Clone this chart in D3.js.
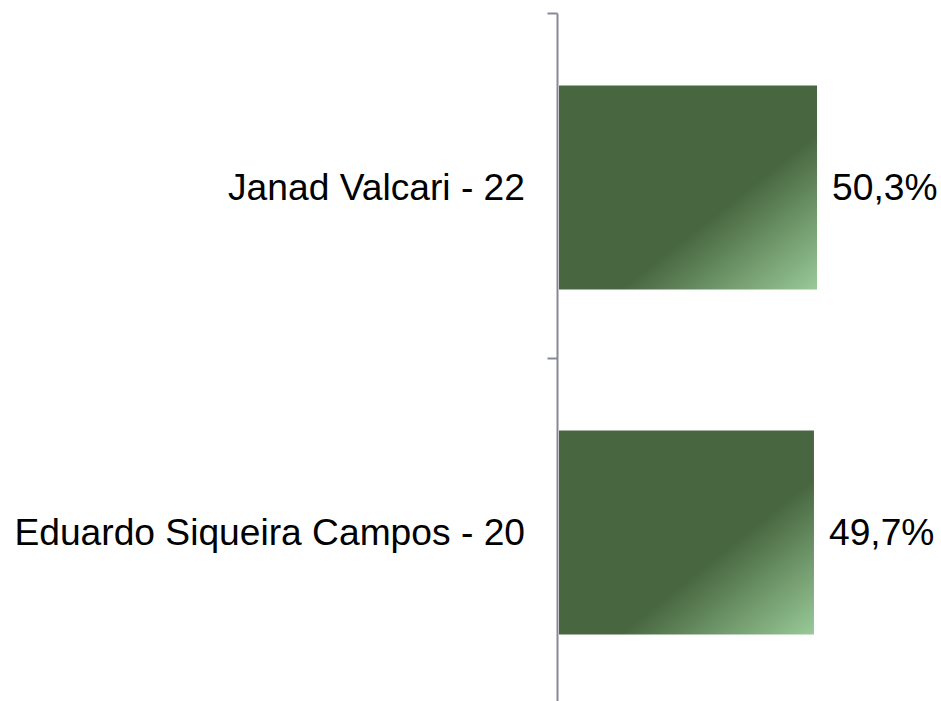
<!DOCTYPE html>
<html>
<head>
<meta charset="utf-8">
<script src="https://cdn.jsdelivr.net/npm/d3@7"></script>
<style>
  html, body { margin: 0; padding: 0; background: #ffffff; }
  svg { display: block; }
</style>
</head>
<body>
<svg id="chart" width="941" height="701"></svg>
<script>
const categories = ["Janad Valcari - 22", "Eduardo Siqueira Campos - 20"];
const values = [50.3, 49.7];
const valueLabels = ["50,3%", "49,7%"];

const svg = d3.select("#chart");
const axisX = 557.5;
const barStart = 559;

const x = d3.scaleLinear().domain([0, 100]).range([barStart, barStart + 513]);
const y = d3.scaleBand()
  .domain(categories)
  .range([13.5, 706.5])
  .paddingInner(0.4087)
  .paddingOuter(0.2087);

const defs = svg.append("defs");
const grad = defs.append("linearGradient")
  .attr("id", "barGrad")
  .attr("x1", 0).attr("y1", 0).attr("x2", 1).attr("y2", 1);
grad.append("stop").attr("offset", 0).attr("stop-color", "#486740");
grad.append("stop").attr("offset", 0.62).attr("stop-color", "#486740");
grad.append("stop").attr("offset", 1).attr("stop-color", "#99ca98");

// bars
svg.selectAll("rect.bar")
  .data(categories)
  .enter().append("rect")
  .attr("class", "bar")
  .attr("x", x(0))
  .attr("y", d => y(d))
  .attr("width", (d, i) => x(values[i]) - x(0))
  .attr("height", y.bandwidth())
  .attr("fill", "url(#barGrad)");

// axis line
const [r0, r1] = y.range();
svg.append("line")
  .attr("x1", axisX).attr("x2", axisX)
  .attr("y1", r0).attr("y2", r1)
  .attr("stroke", "#868a96").attr("stroke-width", 2);

// ticks at category boundaries
const step = y.step();
const boundaries = [r0, r0 + step, r0 + 2 * step];
svg.selectAll("line.tick")
  .data(boundaries)
  .enter().append("line")
  .attr("class", "tick")
  .attr("x1", axisX - 10).attr("x2", axisX)
  .attr("y1", d => d).attr("y2", d => d)
  .attr("stroke", "#868a96").attr("stroke-width", 2);

// category labels
svg.selectAll("text.cat")
  .data(categories)
  .enter().append("text")
  .attr("class", "cat")
  .attr("x", 525)
  .attr("y", d => y(d) + y.bandwidth() / 2)
  .attr("dy", "0.33em")
  .attr("text-anchor", "end")
  .attr("font-family", "Liberation Sans, Arial, sans-serif")
  .attr("font-size", 37.2)
  .attr("fill", "#000")
  .text(d => d);

// value labels
svg.selectAll("text.val")
  .data(categories)
  .enter().append("text")
  .attr("class", "val")
  .attr("x", (d, i) => x(values[i]) + 15)
  .attr("y", d => y(d) + y.bandwidth() / 2)
  .attr("dy", "0.33em")
  .attr("text-anchor", "start")
  .attr("font-family", "Liberation Sans, Arial, sans-serif")
  .attr("font-size", 37.2)
  .attr("fill", "#000")
  .text((d, i) => valueLabels[i]);
</script>
</body>
</html>
